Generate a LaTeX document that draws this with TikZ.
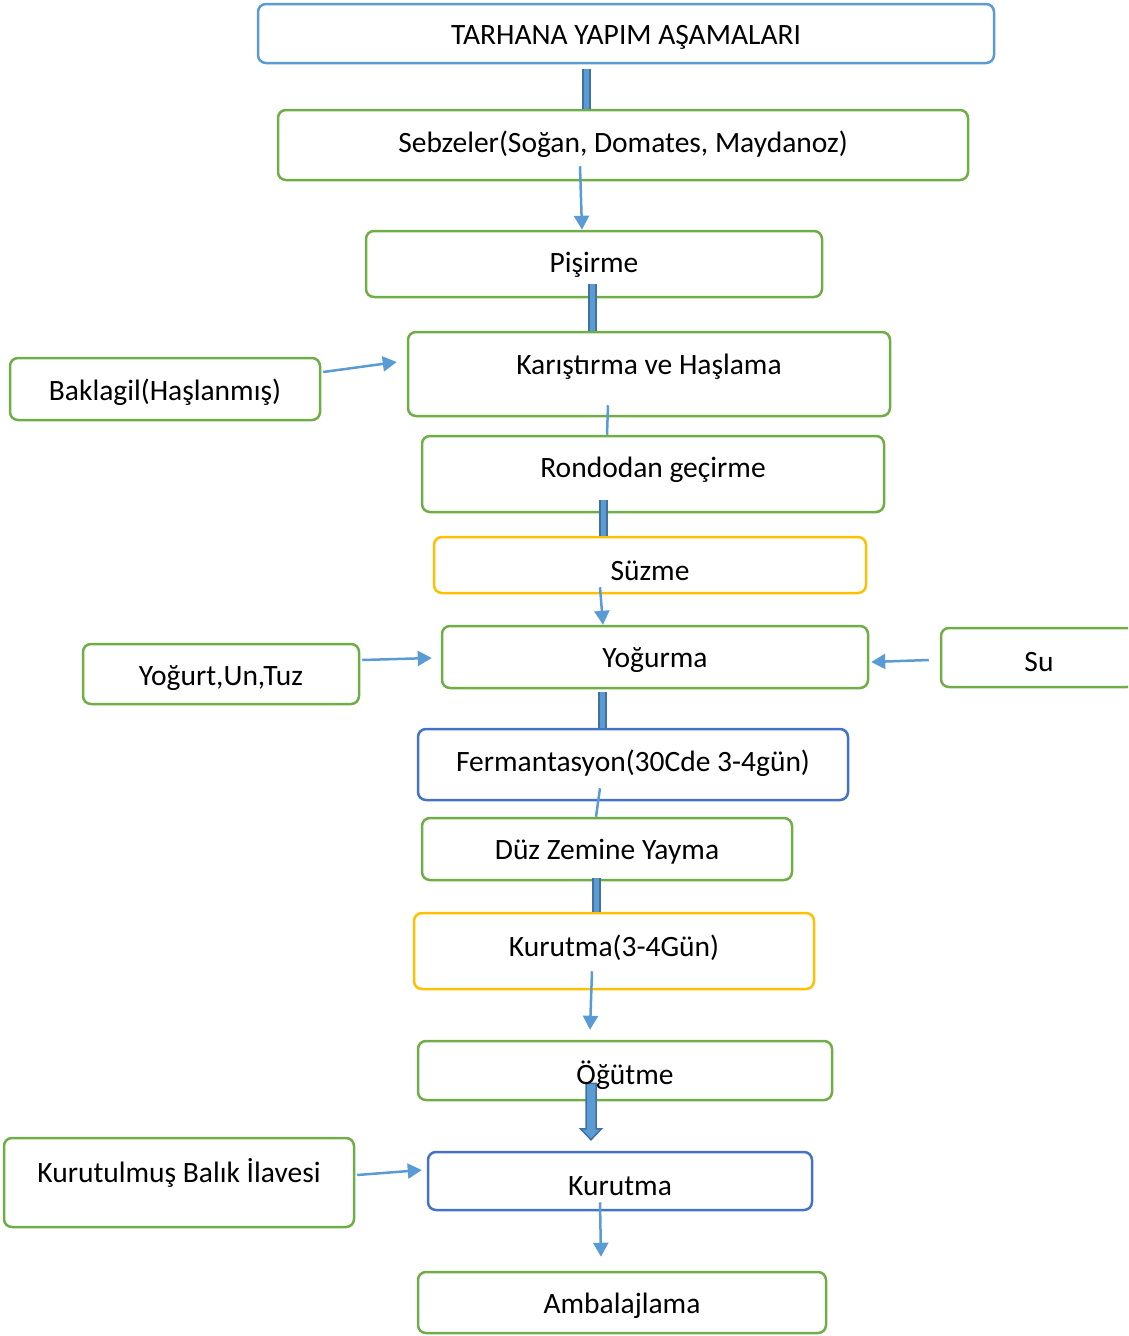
\documentclass[tikz,border=0pt]{standalone}
\usepackage{fontspec}
\setmainfont{Carlito}
\usetikzlibrary{arrows.meta,calc}
\definecolor{cblue}{HTML}{5B9BD5}
\definecolor{cgreen}{HTML}{70AD47}
\definecolor{cyellow}{HTML}{FFC000}
\definecolor{cdblue}{HTML}{4472C4}
\definecolor{cbarline}{HTML}{41719C}
\begin{document}
\begin{tikzpicture}[x=1pt,y=-1pt,
  box/.style={draw=#1, line width=2.5pt, rounded corners=8pt, inner sep=0pt},
  txt/.style={font=\fontsize{29.5}{34}\selectfont, inner sep=0pt, text=black},
  conn/.style={draw=cblue, line width=2.5pt},
  arr/.style={conn, -{Triangle[width=15pt,length=14pt]}},
  bar/.style={draw=cbarline, line width=9pt, line cap=butt, postaction={draw=cblue, line width=5pt}},
]
\useasboundingbox (0,0) rectangle (1128,1336);
\clip (0,0) rectangle (1128,1336);
% boxes
\node[box=cblue,  minimum width=736pt, minimum height=59pt] (b1)  at (626,33.5) {};
\node[box=cgreen, minimum width=690pt, minimum height=70pt] (b2)  at (623,145) {};
\node[box=cgreen, minimum width=456pt, minimum height=66pt] (b3)  at (594,264) {};
\node[box=cgreen, minimum width=482pt, minimum height=84pt] (b4)  at (649,374) {};
\node[box=cgreen, minimum width=310pt, minimum height=62pt] (b5)  at (165,389) {};
\node[box=cgreen, minimum width=462pt, minimum height=76pt] (b6)  at (653,474) {};
\node[box=cyellow,minimum width=432pt, minimum height=56pt] (b7)  at (650,565) {};
\node[box=cgreen, minimum width=426pt, minimum height=62pt] (b8)  at (655,657) {};
\node[box=cgreen, minimum width=276pt, minimum height=60pt] (b9)  at (221,674) {};
\node[box=cgreen, minimum width=194pt, minimum height=59pt] (b10) at (1038,657.5) {};
\node[box=cdblue, minimum width=430pt, minimum height=71pt] (b11) at (633,764.5) {};
\node[box=cgreen, minimum width=370pt, minimum height=62pt] (b12) at (607,849) {};
\node[box=cyellow,minimum width=400pt, minimum height=76pt] (b13) at (614,951) {};
\node[box=cgreen, minimum width=414pt, minimum height=59pt] (b14) at (625,1070.5) {};
\node[box=cgreen, minimum width=350pt, minimum height=89pt] (b15) at (179,1182.5) {};
\node[box=cdblue, minimum width=384pt, minimum height=58pt] (b16) at (620,1181) {};
\node[box=cgreen, minimum width=408pt, minimum height=61pt] (b17) at (622,1302.5) {};
% connectors
\draw[bar] ([xshift=-40pt,yshift=-5pt]b1.south) -- ([xshift=-37pt]b2.north);
\draw[arr] ([xshift=-43pt,yshift=15pt]b2.south) -- ([xshift=-12pt]b3.north);
\draw[bar] ([xshift=-1.5pt,yshift=14pt]b3.south) -- ([xshift=-56.5pt]b4.north);
\draw[conn] ([xshift=-41pt,yshift=12pt]b4.south) -- ([xshift=-46pt]b6.north);
\draw[bar] ([xshift=-49.5pt,yshift=13pt]b6.south) -- ([xshift=-46.5pt]b7.north);
\draw[arr] ([xshift=-50pt,yshift=7pt]b7.south) -- ([xshift=-52pt]b8.north);
\draw[bar] ([xshift=-52.5pt,yshift=-3pt]b8.south) -- ([xshift=-30.5pt]b11.north);
\draw[conn] ([xshift=-33pt,yshift=13pt]b11.south) -- ([xshift=-11pt]b12.north);
\draw[bar] ([xshift=-10.5pt,yshift=3pt]b12.south) -- ([xshift=-17.5pt]b13.north);
\draw[arr] ([xshift=-22pt,yshift=19pt]b13.south) -- ([xshift=-35pt,yshift=10pt]b14.north);
\coordinate (ba) at ([xshift=-34pt,yshift=18pt]b14.south);
\coordinate (bb) at ([xshift=-29pt,yshift=11pt]b16.north);
\filldraw[fill=cblue, draw=cbarline, line width=1.5pt, line join=miter]
  ($(ba)+(-5,0)$) -- ($(ba)+(5,0)$) -- ($(bb)+(5,-11)$) -- ($(bb)+(10.5,-11)$) -- (bb)
  -- ($(bb)+(-10.5,-11)$) -- ($(bb)+(-5,-11)$) -- cycle;
\draw[arr] ([xshift=-20pt,yshift=9pt]b16.south) -- ([xshift=-21pt,yshift=14pt]b17.north);
\draw[arr] ([xshift=2pt,yshift=17pt]b5.east) -- ([xshift=-10pt,yshift=12pt]b4.west);
\draw[arr] ([xshift=2pt,yshift=14pt]b9.east) -- ([xshift=-9pt,yshift=-1pt]b8.west);
\draw[arr] ([xshift=-11pt,yshift=-2.5pt]b10.west) -- ([xshift=2pt,yshift=-5pt]b8.east);
\draw[arr] ([xshift=2pt,yshift=7.5pt]b15.east) -- ([xshift=-5pt,yshift=11pt]b16.west);
% texts
\node[txt] (t1)  at (626,37)   {TARHANA YAPIM AŞAMALARI};
\node[txt] (t2)  at (623,144)  {Sebzeler(Soğan, Domates, Maydanoz)};
\node[txt] (t3)  at (594,265)  {Pişirme};
\node[txt] (t4)  at (649,367)  {Karıştırma ve Haşlama};
\node[txt] (t5)  at (165,392)  {Baklagil(Haşlanmış)};
\node[txt] (t6)  at (653,470)  {Rondodan geçirme};
\node[txt] (t7)  at (650,571)  {Süzme};
\node[txt] (t8)  at (655,660)  {Yoğurma};
\node[txt] (t9)  at (221,678)  {Yoğurt,Un,Tuz};
\node[txt] (t10) at (1039,662) {Su};
\node[txt] (t11) at (633,763)  {Fermantasyon(30Cde 3-4gün)};
\node[txt] (t12) at (607,852)  {Düz Zemine Yayma};
\node[txt] (t13) at (614,948)  {Kurutma(3-4Gün)};
\node[txt] (t14) at (625,1075) {Öğütme};
\node[txt] (t15) at (179,1173) {Kurutulmuş Balık İlavesi};
\node[txt] (t16) at (620,1186) {Kurutma};
\node[txt] (t17) at (622,1306) {Ambalajlama};
\end{tikzpicture}
\end{document}
